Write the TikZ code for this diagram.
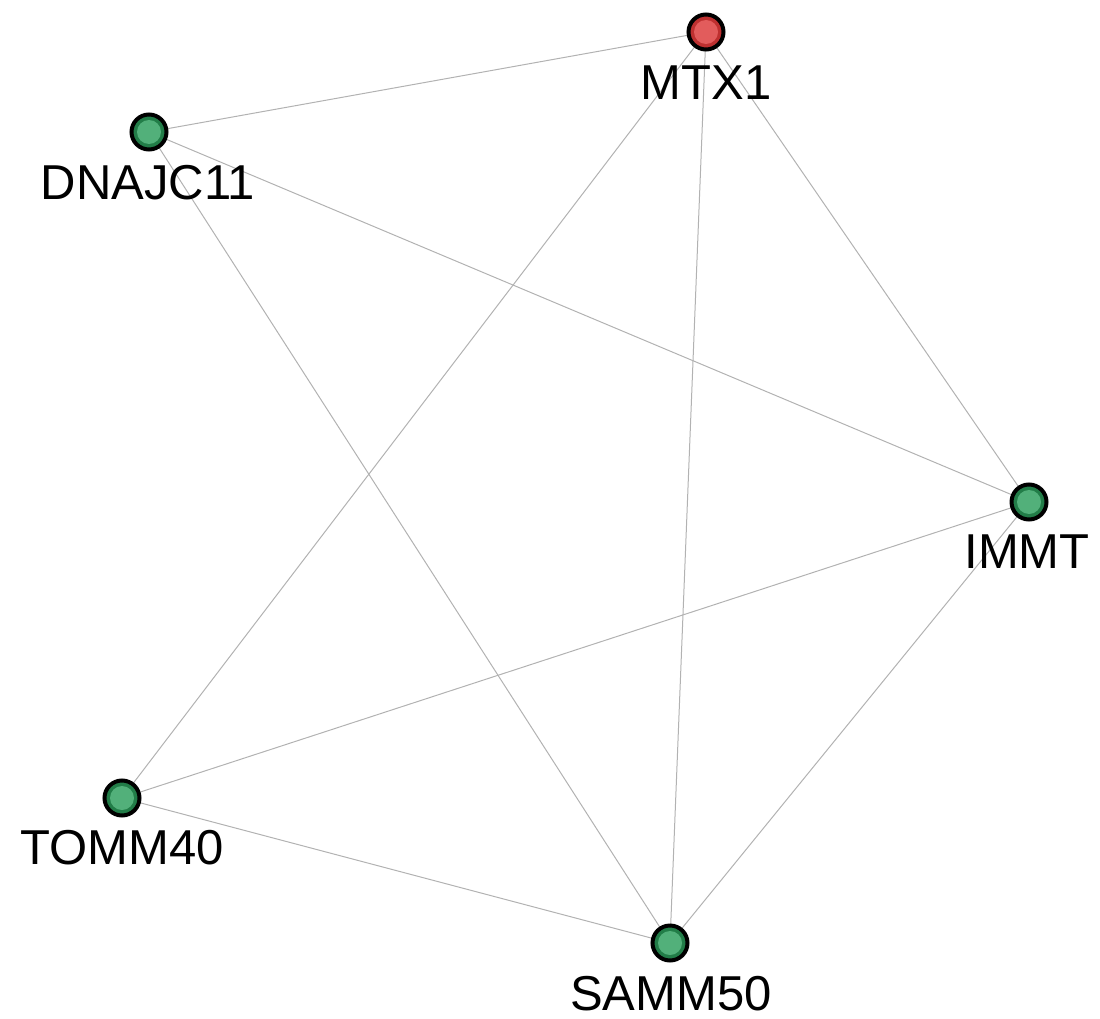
\documentclass[tikz,border=0pt]{standalone}
\usepackage{fontspec}
\setmainfont{Liberation Sans}
\usetikzlibrary{backgrounds}
\definecolor{gring}{RGB}{34,125,72}
\definecolor{gfill}{RGB}{82,176,122}
\definecolor{rring}{RGB}{190,48,48}
\definecolor{rfill}{RGB}{226,92,92}
\definecolor{edgec}{RGB}{178,178,178}
\tikzset{
  gene/.style 2 args={circle, draw=black, line width=4pt, fill=#1, minimum size=35pt, inner sep=0pt,
    path picture={\fill[#2] (path picture bounding box.center) circle (12pt);}},
  lbl/.style={anchor=base, font=\fontsize{49}{49}\selectfont, inner sep=0pt},
  edge/.style={draw=edgec, line width=1pt}
}
\begin{document}
\begin{tikzpicture}[x=1pt,y=-1pt]
\useasboundingbox (0,0) rectangle (1100,1019);
\node[gene={rring}{rfill}] (mtx) at (706,32) {};
\node[gene={gring}{gfill}] (dna) at (149,132) {};
\node[gene={gring}{gfill}] (immt) at (1029,502) {};
\node[gene={gring}{gfill}] (tomm) at (122,798) {};
\node[gene={gring}{gfill}] (samm) at (670,943) {};
\node[lbl] (lmtx) at (706,100) {MTX1};
\node[lbl] (ldna) at (148,200) {DNAJC11};
\node[lbl] (limmt) at (1027,568) {IMMT};
\node[lbl] (ltomm) at (122,864) {TOMM40};
\node[lbl] (lsamm) at (671,1010) {SAMM50};
\begin{scope}[on background layer]
\draw[edge] (mtx.center) -- (dna.center);
\draw[edge] (mtx.center) -- (tomm.center);
\draw[edge] (mtx.center) -- (samm.center);
\draw[edge] (mtx.center) -- (immt.center);
\draw[edge] (dna.center) -- (immt.center);
\draw[edge] (dna.center) -- (samm.center);
\draw[edge] (immt.center) -- (tomm.center);
\draw[edge] (immt.center) -- (samm.center);
\draw[edge] (tomm.center) -- (samm.center);
\end{scope}
\end{tikzpicture}
\end{document}
